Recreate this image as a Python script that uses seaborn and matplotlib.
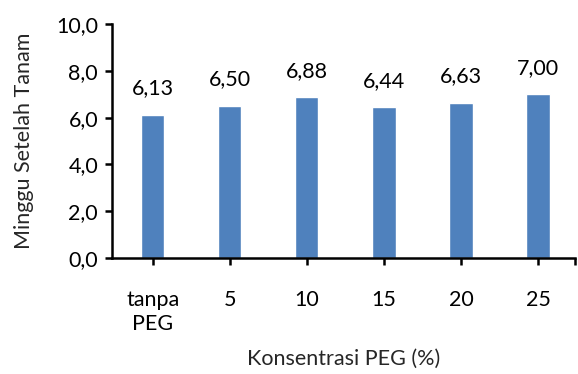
import matplotlib
matplotlib.use('Agg')
import matplotlib.pyplot as plt
import seaborn as sns
import pandas as pd

# data
kategori = ['tanpa\nPEG', '5', '10', '15', '20', '25']
minggu = [6.13, 6.50, 6.88, 6.44, 6.63, 7.00]

df = pd.DataFrame({'Konsentrasi': kategori, 'Minggu': minggu})

sns.set_theme(style='ticks')
plt.rcParams['font.family'] = ['Lato', 'DejaVu Sans']

fs = 15.5

fig = plt.figure(figsize=(5.78, 3.74), dpi=100)
ax = fig.add_axes([112 / 578, 1 - 258 / 374, 463 / 578, 234 / 374])

sns.barplot(data=df, x='Konsentrasi', y='Minggu', color='#4F81BD',
            saturation=1, width=0.3, ax=ax)

for i, v in enumerate(minggu):
    ax.text(i, v + 0.7, f'{v:.2f}'.replace('.', ','), ha='center', va='bottom',
            fontsize=fs, color='black')

ax.set_ylim(0, 10)
ax.set_xlim(-0.53, 5.48)
ax.set_yticks([0, 2, 4, 6, 8, 10])
ax.set_yticklabels([f'{t:.1f}'.replace('.', ',') for t in [0, 2, 4, 6, 8, 10]])
ax.set_xticks(range(len(kategori)))
ax.set_xticklabels(kategori, linespacing=1.25)
ax.set_xticks([5.48], minor=True)

for s in ['top', 'right']:
    ax.spines[s].set_visible(False)
for s in ['left', 'bottom']:
    ax.spines[s].set_linewidth(1.8)
    ax.spines[s].set_color('black')

ax.tick_params(axis='both', which='both', direction='out', length=5, width=1.8,
               labelsize=fs, colors='black')
ax.tick_params(axis='x', pad=18)
ax.tick_params(axis='y', pad=5)

ax.set_xlabel('Konsentrasi PEG (%)', fontsize=fs, labelpad=11)
ax.set_ylabel('Minggu Setelah Tanam', fontsize=fs, labelpad=16)

fig.savefig('out.png', dpi=100)
